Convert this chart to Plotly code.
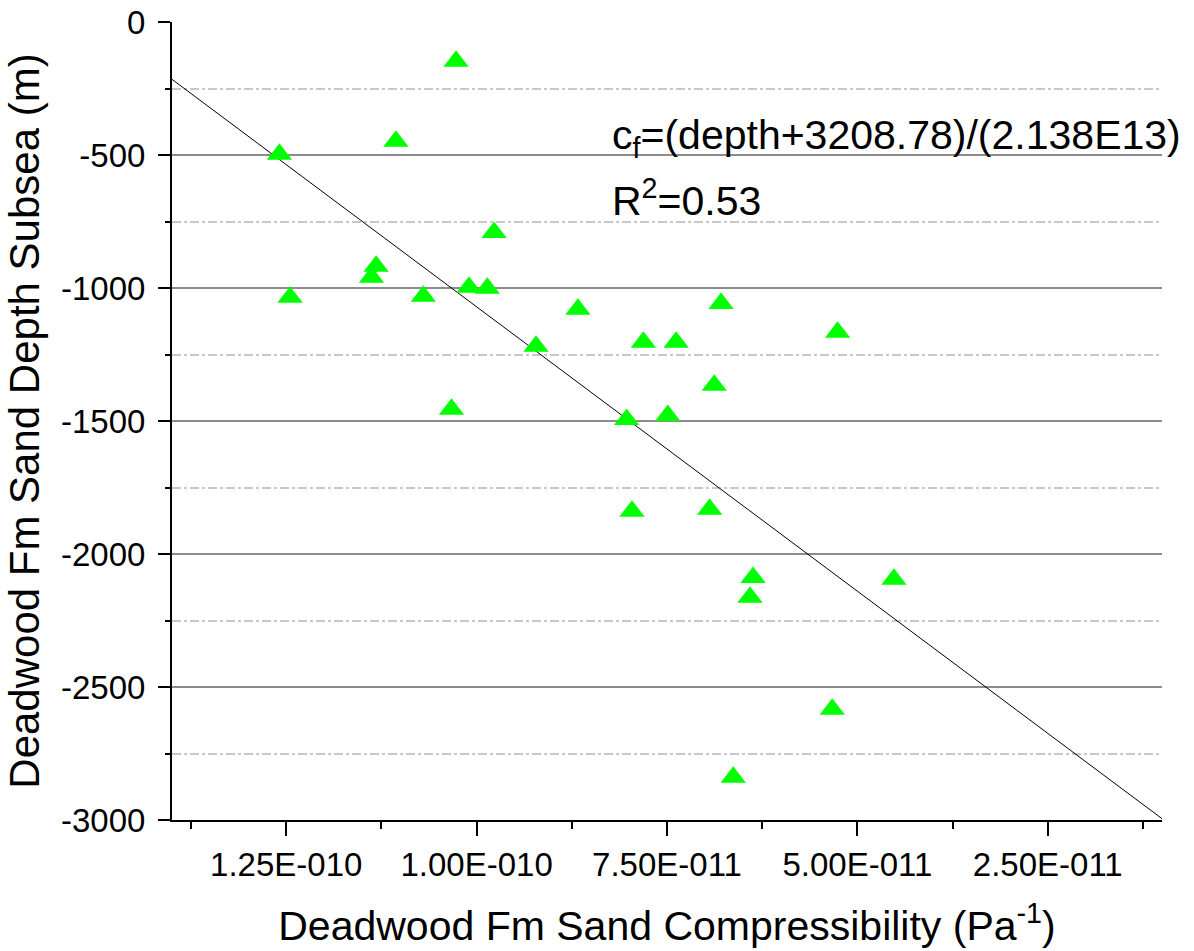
import plotly.graph_objects as go

# Data
compressibility = [1.027e-10, 1.259e-10, 1.106e-10, 0.977e-10, 1.132e-10, 1.138e-10,
                   1.245e-10, 1.070e-10, 1.010e-10, 0.986e-10, 0.867e-10, 0.922e-10,
                   0.781e-10, 0.738e-10, 1.033e-10, 0.803e-10, 0.749e-10, 0.688e-10,
                   0.679e-10, 0.526e-10, 0.796e-10, 0.694e-10, 0.637e-10, 0.641e-10,
                   0.452e-10, 0.533e-10, 0.663e-10]
depth = [-148, -497, -448, -791, -918, -960,
         -1035, -1031, -997, -1001, -1080, -1219,
         -1204, -1204, -1456, -1494, -1479, -1366,
         -1058, -1166, -1839, -1832, -2088, -2163,
         -2095, -2584, -2839]

# Fit: cf = (depth + intercept) / slope
fit_intercept = 3208.78
fit_slope = 2.138e13
fit_cf = [1.4e-10, 1.0e-11]
fit_depth = [c * fit_slope - fit_intercept for c in fit_cf]

x_tickvals = [1.25e-10, 1.00e-10, 7.5e-11, 5.0e-11, 2.5e-11]
x_ticktext = ["1.25E-010", "1.00E-010", "7.50E-011", "5.00E-011", "2.50E-011"]
x_minor = [1.375e-10, 1.125e-10, 0.875e-10, 0.625e-10, 0.375e-10, 0.125e-10]

y_tickvals = [0, -500, -1000, -1500, -2000, -2500, -3000]
y_ticktext = ["0", "-500", "-1000", "-1500", "-2000", "-2500", "-3000"]

font_family = "Liberation Sans, Arial, sans-serif"

fig = go.Figure()
fig.add_trace(go.Scatter(x=fit_cf, y=fit_depth, mode="lines",
                         line=dict(color="black", width=1), showlegend=False))
fig.add_trace(go.Scatter(x=compressibility, y=depth, mode="markers",
                         marker=dict(symbol="triangle-up", size=22, color="#00FF00",
                                     line=dict(width=0)),
                         showlegend=False))

fig.add_annotation(xref="x domain", yref="y domain", x=(610 - 172) / 990,
                   y=1 - (138 - 22) / 798,
                   xanchor="left", yanchor="middle", showarrow=False,
                   text="c<sub>f</sub>=(depth+3208.78)/(2.138E13)",
                   font=dict(family=font_family, size=41, color="black"))
fig.add_annotation(xref="x domain", yref="y domain", x=(610 - 172) / 990,
                   y=1 - (198 - 22) / 798,
                   xanchor="left", yanchor="middle", showarrow=False,
                   text="R<sup>2</sup>=0.53",
                   font=dict(family=font_family, size=41, color="black"))

fig.update_layout(
    width=1194, height=951,
    margin=dict(l=172, r=32, t=22, b=131, autoexpand=False),
    paper_bgcolor="white", plot_bgcolor="white",
    font=dict(family=font_family, color="black"),
    xaxis=dict(
        range=[1.4e-10, 1.0e-11], automargin=False,
        tickvals=x_tickvals, ticktext=x_ticktext,
        ticks="outside", ticklen=14, tickwidth=2, tickcolor="black",
        showline=True, linecolor="black", linewidth=2,
        showgrid=False, zeroline=False,
        tickfont=dict(size=33, family=font_family),
        ticklabelstandoff=0,
        minor=dict(tickvals=x_minor, ticks="outside", ticklen=7, tickwidth=2,
                   tickcolor="black", showgrid=False),
        title=dict(text="Deadwood Fm Sand Compressibility (Pa<sup>-1</sup>)",
                   font=dict(size=41, family=font_family), standoff=30),
    ),
    yaxis=dict(
        range=[-3000, 0], automargin=False,
        tickvals=y_tickvals, ticktext=y_ticktext,
        ticks="outside", ticklen=12, tickwidth=2, tickcolor="black",
        showline=True, linecolor="black", linewidth=2,
        showgrid=True, gridcolor="#8c8c8c", gridwidth=1.5,
        zeroline=False,
        tickfont=dict(size=33, family=font_family),
        ticklabelstandoff=6,
        minor=dict(dtick=250, tick0=0, ticks="outside", ticklen=5, tickwidth=2, tickcolor="black",
                   showgrid=True, gridcolor="#c8c8c8", gridwidth=1.5, griddash="dashdot"),
        title=dict(text="Deadwood Fm Sand Depth Subsea (m)",
                   font=dict(size=42, family=font_family), standoff=8),
    ),
)

fig.write_html("out.html")
